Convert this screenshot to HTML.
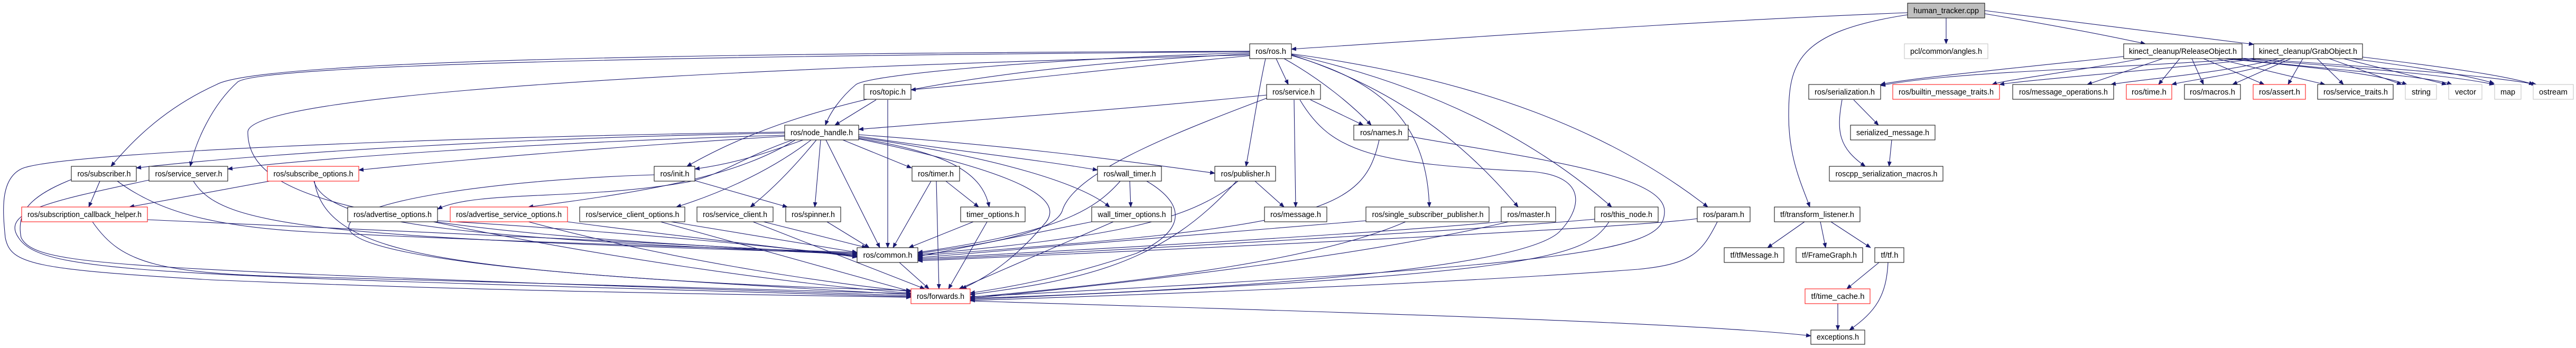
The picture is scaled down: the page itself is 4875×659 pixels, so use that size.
<!DOCTYPE html>
<html><head><meta charset="utf-8"><style>
html,body{margin:0;padding:0;background:#fff}
svg{display:block}
text{font-family:"Liberation Sans Narrow","Liberation Sans",sans-serif;font-size:15px;text-anchor:middle;fill:#000}
.e{fill:none;stroke:#191970;stroke-width:1.1}
.n{fill:#fff;stroke:#000;stroke-width:1}
.r{fill:#fff;stroke:#ff0000;stroke-width:1}
.g{fill:#fff;stroke:#bfbfbf;stroke-width:1}
</style></head><body>
<svg width="4875" height="659" viewBox="0 0 4875 659" xmlns="http://www.w3.org/2000/svg">
<defs><marker id="a" markerWidth="10" markerHeight="8" refX="9" refY="4" orient="auto" markerUnits="userSpaceOnUse"><polygon points="0,0 10,4 0,8" fill="#191970"/></marker></defs>
<g class="e" marker-end="url(#a)">
<path d="M3610,24 C3200,40 2800,70 2444,93"/>
<path d="M3683,34 L3683,83"/>
<path d="M3756,26 C3900,50 4000,70 4060,83"/>
<path d="M3756,20 C3950,45 4150,70 4265,84"/>
<path d="M3610,28 C3400,60 3385,120 3385,220 C3385,300 3410,350 3425,392"/>
<path d="M2365,97 C1500,100 500,110 410,160 C300,210 240,280 210,315"/>
<path d="M2365,98 C1400,105 500,120 450,155 C400,200 370,270 360,315"/>
<path d="M2365,100 C2000,110 1650,140 1620,160 C1590,185 1570,215 1562,237"/>
<path d="M2370,105 C2100,130 1900,155 1724,170"/>
<path d="M2365,102 C1800,130 1500,200 1300,315"/>
<path d="M2415,111 L2438,160"/>
<path d="M2430,111 C2500,150 2560,200 2595,237"/>
<path d="M2395,111 C2380,180 2370,250 2358,315"/>
<path d="M2444,105 C2600,150 2700,220 2705,392"/>
<path d="M2444,104 C2650,170 2780,280 2873,392"/>
<path d="M2444,103 C2700,160 2900,260 3050,392"/>
<path d="M2444,102 C2800,150 3050,250 3232,392"/>
<path d="M2365,104 C1300,130 470,180 469,250 C469,380 700,440 1622,480"/>
<path d="M1485,252 C1000,260 500,290 258,318"/>
<path d="M1485,256 C1000,270 600,300 431,320"/>
<path d="M1485,258 C1200,275 900,300 679,322"/>
<path d="M1520,265 C1450,290 1390,310 1315,320"/>
<path d="M1500,265 C1400,300 1370,330 1300,345 C1100,380 900,360 828,396"/>
<path d="M1505,265 C1400,330 1250,360 1000,392"/>
<path d="M1535,265 C1450,330 1350,370 1280,392"/>
<path d="M1545,265 C1500,320 1460,360 1420,392"/>
<path d="M1553,265 L1542,392"/>
<path d="M1563,265 L1665,469"/>
<path d="M1595,265 L1725,318"/>
<path d="M1625,262 C1800,290 1860,330 1872,392"/>
<path d="M1625,258 C1800,285 1950,300 2077,322"/>
<path d="M1625,255 C1900,275 2100,300 2299,328"/>
<path d="M1625,260 C1900,300 2050,350 2100,392"/>
<path d="M1625,263 C1950,330 2010,380 1980,420 C1930,480 1880,520 1820,547"/>
<path d="M1485,250 C800,260 100,290 40,320 C0,340 5,400 10,450 C20,500 60,510 400,530 C1000,555 1600,560 1724,563"/>
<path d="M1658,189 L1580,237"/>
<path d="M1680,189 L1680,469"/>
<path d="M2397,180 C2100,210 1800,230 1625,245"/>
<path d="M2480,189 L2580,237"/>
<path d="M2449,189 L2452,392"/>
<path d="M2397,186 C2200,260 2030,330 2010,400 C1990,450 1800,470 1737,480"/>
<path d="M2460,189 C2520,290 2600,310 2900,325 C3010,335 2990,400 2950,440 C2850,530 2000,560 1836,565"/>
<path d="M2610,265 C2580,400 2500,430 1737,484"/>
<path d="M2665,258 C2900,300 3150,330 3150,400 C3150,470 3050,500 1836,562"/>
<path d="M189,343 L168,392"/>
<path d="M222,343 C300,400 400,430 600,440 C1000,460 1400,470 1622,478"/>
<path d="M135,340 C60,370 30,400 40,450 C60,490 150,500 600,520 C1200,545 1600,555 1724,560"/>
<path d="M366,343 C420,430 600,450 1622,480"/>
<path d="M282,341 C100,380 0,400 35,450 C80,520 300,520 1724,562"/>
<path d="M510,343 L245,392"/>
<path d="M594,343 C620,430 900,450 1622,482"/>
<path d="M595,343 C620,500 900,510 1724,558"/>
<path d="M279,416 C800,440 1400,465 1622,484"/>
<path d="M175,420 C230,500 300,520 600,525 C1200,540 1600,555 1724,556"/>
<path d="M828,418 C1200,440 1500,470 1622,486"/>
<path d="M820,420 C1100,480 1500,540 1724,555"/>
<path d="M1074,420 C1300,450 1500,470 1622,487"/>
<path d="M1000,420 C1300,500 1600,540 1724,552"/>
<path d="M1270,420 L1622,478"/>
<path d="M1250,420 L1724,552"/>
<path d="M1445,420 L1640,469"/>
<path d="M1425,420 L1750,547"/>
<path d="M1565,420 L1645,469"/>
<path d="M1315,342 L1490,392"/>
<path d="M1238,331 C950,340 660,380 660,430 C660,500 1300,540 1724,550"/>
<path d="M1762,343 L1690,469"/>
<path d="M1772,343 L1777,547"/>
<path d="M1790,343 L1852,392"/>
<path d="M1842,420 L1720,469"/>
<path d="M1868,420 L1795,547"/>
<path d="M2138,343 L2140,392"/>
<path d="M2120,343 C2070,400 2000,440 1737,478"/>
<path d="M2170,343 C2250,390 2240,440 2150,480 C2000,530 1900,545 1836,555"/>
<path d="M2066,420 L1737,486"/>
<path d="M2107,420 L1815,547"/>
<path d="M2375,343 L2430,392"/>
<path d="M2343,343 C2250,420 2100,450 1737,482"/>
<path d="M2340,343 C2200,500 2050,530 1836,558"/>
<path d="M2585,418 L1737,488"/>
<path d="M2660,420 C2500,490 2200,530 1836,563"/>
<path d="M2841,420 C2500,450 2000,475 1737,490"/>
<path d="M2855,420 C2600,480 2200,530 1836,565"/>
<path d="M3018,415 C2800,435 2200,470 1737,492"/>
<path d="M3045,420 C3000,490 2900,520 1836,567"/>
<path d="M3212,414 C3100,430 2500,460 1737,494"/>
<path d="M3250,420 C3220,480 3200,500 3100,510 C2700,540 2100,560 1836,569"/>
<path d="M1702,497 L1758,547"/>
<path d="M1836,570 C2500,590 3200,610 3427,636"/>
<path d="M3508,189 L3555,237"/>
<path d="M3486,189 C3475,250 3480,280 3530,315"/>
<path d="M3580,265 L3575,315"/>
<path d="M3415,420 L3345,469"/>
<path d="M3445,420 L3455,469"/>
<path d="M3465,420 L3540,469"/>
<path d="M3556,497 L3495,547"/>
<path d="M3573,497 C3570,560 3550,590 3500,625"/>
<path d="M3478,575 L3478,625"/>
<path d="M4019,107 C3800,130 3600,150 3559,160"/>
<path d="M4053,111 C3900,140 3800,150 3770,160"/>
<path d="M4093,111 L3950,160"/>
<path d="M4125,111 L4085,160"/>
<path d="M4148,111 L4170,160"/>
<path d="M4170,111 L4285,160"/>
<path d="M4195,111 L4400,160"/>
<path d="M4210,111 C4400,130 4500,140 4555,160"/>
<path d="M4220,111 C4450,135 4600,145 4640,160"/>
<path d="M4230,111 C4500,130 4650,145 4720,160"/>
<path d="M4240,110 C4550,130 4720,145 4800,160"/>
<path d="M4270,110 C4000,130 3700,135 3559,162"/>
<path d="M4280,111 C4000,140 3850,150 3784,160"/>
<path d="M4312,111 C4200,140 4050,150 3995,160"/>
<path d="M4325,111 C4250,140 4150,150 4110,160"/>
<path d="M4335,111 L4225,160"/>
<path d="M4358,111 L4330,160"/>
<path d="M4385,111 L4435,160"/>
<path d="M4408,111 L4545,160"/>
<path d="M4435,111 L4630,160"/>
<path d="M4450,111 C4600,130 4680,145 4720,158"/>
<path d="M4471,108 C4650,130 4750,145 4795,160"/>
</g>
<g lengthAdjust="spacingAndGlyphs">
<rect x="3610" y="6" width="146" height="28" fill="#bfbfbf" stroke="#000"/><text x="3683" y="25" textLength="124" lengthAdjust="spacingAndGlyphs">human_tracker.cpp</text>
<rect class="g" x="3604" y="83" width="158" height="28"/><text x="3683" y="102" textLength="136" lengthAdjust="spacingAndGlyphs">pcl/common/angles.h</text>
<rect class="n" x="2365" y="83" width="79" height="28"/><text x="2405" y="102" textLength="58" lengthAdjust="spacingAndGlyphs">ros/ros.h</text>
<rect class="n" x="4019" y="83" width="224" height="28"/><text x="4131" y="102" textLength="204" lengthAdjust="spacingAndGlyphs">kinect_cleanup/ReleaseObject.h</text>
<rect class="n" x="4265" y="83" width="206" height="28"/><text x="4368" y="102" textLength="186" lengthAdjust="spacingAndGlyphs">kinect_cleanup/GrabObject.h</text>
<rect class="n" x="1635" y="160" width="89" height="28"/><text x="1680" y="179" textLength="68" lengthAdjust="spacingAndGlyphs">ros/topic.h</text>
<rect class="n" x="2397" y="160" width="102" height="28"/><text x="2448" y="179" textLength="80" lengthAdjust="spacingAndGlyphs">ros/service.h</text>
<rect class="n" x="3423" y="160" width="136" height="28"/><text x="3491" y="179" textLength="114" lengthAdjust="spacingAndGlyphs">ros/serialization.h</text>
<rect class="r" x="3582" y="160" width="202" height="28"/><text x="3683" y="179" textLength="180" lengthAdjust="spacingAndGlyphs">ros/builtin_message_traits.h</text>
<rect class="n" x="3809" y="160" width="191" height="28"/><text x="3905" y="179" textLength="168" lengthAdjust="spacingAndGlyphs">ros/message_operations.h</text>
<rect class="r" x="4024" y="160" width="86" height="28"/><text x="4067" y="179" textLength="66" lengthAdjust="spacingAndGlyphs">ros/time.h</text>
<rect class="n" x="4134" y="160" width="106" height="28"/><text x="4187" y="179" textLength="86" lengthAdjust="spacingAndGlyphs">ros/macros.h</text>
<rect class="r" x="4264" y="160" width="99" height="28"/><text x="4314" y="179" textLength="78" lengthAdjust="spacingAndGlyphs">ros/assert.h</text>
<rect class="n" x="4386" y="160" width="143" height="28"/><text x="4458" y="179" textLength="122" lengthAdjust="spacingAndGlyphs">ros/service_traits.h</text>
<rect class="g" x="4552" y="160" width="59" height="28"/><text x="4582" y="179" textLength="36" lengthAdjust="spacingAndGlyphs">string</text>
<rect class="g" x="4634" y="160" width="63" height="28"/><text x="4666" y="179" textLength="40" lengthAdjust="spacingAndGlyphs">vector</text>
<rect class="g" x="4721" y="160" width="50" height="28"/><text x="4746" y="179" textLength="28" lengthAdjust="spacingAndGlyphs">map</text>
<rect class="g" x="4794" y="160" width="76" height="28"/><text x="4832" y="179" textLength="54" lengthAdjust="spacingAndGlyphs">ostream</text>
<rect class="n" x="1485" y="237" width="140" height="28"/><text x="1555" y="256" textLength="118" lengthAdjust="spacingAndGlyphs">ros/node_handle.h</text>
<rect class="n" x="2562" y="237" width="103" height="28"/><text x="2614" y="256" textLength="80" lengthAdjust="spacingAndGlyphs">ros/names.h</text>
<rect class="n" x="3502" y="237" width="160" height="28"/><text x="3582" y="256" textLength="138" lengthAdjust="spacingAndGlyphs">serialized_message.h</text>
<rect class="n" x="135" y="315" width="123" height="28"/><text x="197" y="334" textLength="101" lengthAdjust="spacingAndGlyphs">ros/subscriber.h</text>
<rect class="n" x="282" y="315" width="149" height="28"/><text x="357" y="334" textLength="127" lengthAdjust="spacingAndGlyphs">ros/service_server.h</text>
<rect class="r" x="506" y="315" width="173" height="28"/><text x="593" y="334" textLength="151" lengthAdjust="spacingAndGlyphs">ros/subscribe_options.h</text>
<rect class="n" x="1238" y="315" width="77" height="28"/><text x="1277" y="334" textLength="55" lengthAdjust="spacingAndGlyphs">ros/init.h</text>
<rect class="n" x="1726" y="315" width="90" height="28"/><text x="1771" y="334" textLength="68" lengthAdjust="spacingAndGlyphs">ros/timer.h</text>
<rect class="n" x="2077" y="315" width="121" height="28"/><text x="2138" y="334" textLength="99" lengthAdjust="spacingAndGlyphs">ros/wall_timer.h</text>
<rect class="n" x="2299" y="315" width="115" height="28"/><text x="2357" y="334" textLength="93" lengthAdjust="spacingAndGlyphs">ros/publisher.h</text>
<rect class="n" x="3462" y="315" width="215" height="28"/><text x="3570" y="334" textLength="193" lengthAdjust="spacingAndGlyphs">roscpp_serialization_macros.h</text>
<rect class="r" x="41" y="392" width="238" height="28"/><text x="160" y="411" textLength="216" lengthAdjust="spacingAndGlyphs">ros/subscription_callback_helper.h</text>
<rect class="n" x="658" y="392" width="170" height="28"/><text x="743" y="411" textLength="148" lengthAdjust="spacingAndGlyphs">ros/advertise_options.h</text>
<rect class="r" x="852" y="392" width="222" height="28"/><text x="963" y="411" textLength="200" lengthAdjust="spacingAndGlyphs">ros/advertise_service_options.h</text>
<rect class="n" x="1097" y="392" width="199" height="28"/><text x="1197" y="411" textLength="177" lengthAdjust="spacingAndGlyphs">ros/service_client_options.h</text>
<rect class="n" x="1319" y="392" width="144" height="28"/><text x="1391" y="411" textLength="122" lengthAdjust="spacingAndGlyphs">ros/service_client.h</text>
<rect class="n" x="1487" y="392" width="104" height="28"/><text x="1539" y="411" textLength="82" lengthAdjust="spacingAndGlyphs">ros/spinner.h</text>
<rect class="n" x="1818" y="392" width="122" height="28"/><text x="1879" y="411" textLength="100" lengthAdjust="spacingAndGlyphs">timer_options.h</text>
<rect class="n" x="2066" y="392" width="151" height="28"/><text x="2142" y="411" textLength="129" lengthAdjust="spacingAndGlyphs">wall_timer_options.h</text>
<rect class="n" x="2393" y="392" width="118" height="28"/><text x="2452" y="411" textLength="96" lengthAdjust="spacingAndGlyphs">ros/message.h</text>
<rect class="n" x="2585" y="392" width="233" height="28"/><text x="2702" y="411" textLength="211" lengthAdjust="spacingAndGlyphs">ros/single_subscriber_publisher.h</text>
<rect class="n" x="2841" y="392" width="103" height="28"/><text x="2893" y="411" textLength="81" lengthAdjust="spacingAndGlyphs">ros/master.h</text>
<rect class="n" x="3018" y="392" width="120" height="28"/><text x="3078" y="411" textLength="98" lengthAdjust="spacingAndGlyphs">ros/this_node.h</text>
<rect class="n" x="3212" y="392" width="100" height="28"/><text x="3262" y="411" textLength="78" lengthAdjust="spacingAndGlyphs">ros/param.h</text>
<rect class="n" x="3358" y="392" width="162" height="28"/><text x="3439" y="411" textLength="140" lengthAdjust="spacingAndGlyphs">tf/transform_listener.h</text>
<rect class="n" x="1622" y="469" width="115" height="28"/><text x="1680" y="488" textLength="93" lengthAdjust="spacingAndGlyphs">ros/common.h</text>
<rect class="n" x="3263" y="469" width="113" height="28"/><text x="3320" y="488" textLength="91" lengthAdjust="spacingAndGlyphs">tf/tfMessage.h</text>
<rect class="n" x="3399" y="469" width="126" height="28"/><text x="3462" y="488" textLength="104" lengthAdjust="spacingAndGlyphs">tf/FrameGraph.h</text>
<rect class="n" x="3548" y="469" width="55" height="28"/><text x="3576" y="488" textLength="33" lengthAdjust="spacingAndGlyphs">tf/tf.h</text>
<rect class="r" x="1724" y="547" width="112" height="28"/><text x="1780" y="566" textLength="90" lengthAdjust="spacingAndGlyphs">ros/forwards.h</text>
<rect class="r" x="3416" y="547" width="123" height="28"/><text x="3478" y="566" textLength="101" lengthAdjust="spacingAndGlyphs">tf/time_cache.h</text>
<rect class="n" x="3427" y="625" width="102" height="27"/><text x="3478" y="643" textLength="80" lengthAdjust="spacingAndGlyphs">exceptions.h</text>
</g>
</svg>
</body></html>
